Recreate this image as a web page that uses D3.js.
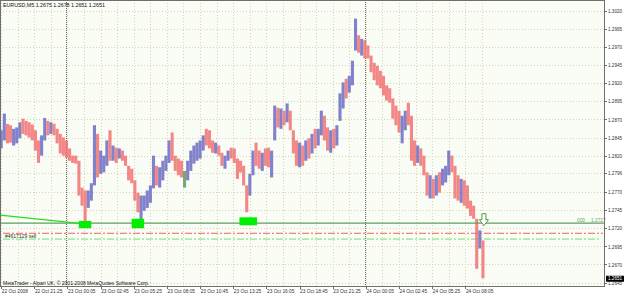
<!DOCTYPE html>
<html lang="en">
<head>
<meta charset="UTF-8">
<title>EURUSD,M5</title>
<script src="https://cdn.jsdelivr.net/npm/d3@7"></script>
<style>
    body { margin: 0; background: #ffffff; }
    svg { display: block; font-family: "Liberation Sans", Arial, sans-serif; }
</style>
</head>
<body>
<svg width="625" height="296"></svg>
<script>
// header / footer text
var symbolTitle = "EURUSD,M5  1.2675 1.2678 1.2651 1.2651";
var copyright = "MetaTrader - Alpari UK, \u00a9 2001-2008 MetaQuotes Software Corp.";

// price bars, one every 15 minutes starting 22 Oct 2008 18:45
var firstBar = "2008-10-22 18:45";
var firstOpen = 1.2840;
var highs = [
    1.2855,1.2878,1.2864,1.2862,1.2857,1.2859,1.2866,1.2871,1.2868,1.2866,
    1.2863,1.2855,1.2841,1.2848,1.2872,1.2868,1.2866,1.2864,1.2857,1.2850,
    1.2845,1.2841,1.2830,1.2820,1.2820,1.2813,1.2776,1.2772,1.2772,1.2782,
    1.2862,1.2850,1.2827,1.2820,1.2841,1.2855,1.2834,1.2831,1.2830,1.2827,
    1.2820,1.2806,1.2802,1.2786,1.2769,1.2765,1.2765,1.2772,1.2779,1.2820,
    1.2806,1.2804,1.2813,1.2820,1.2841,1.2852,1.2820,1.2816,1.2813,1.2799,
    1.2813,1.2827,1.2834,1.2838,1.2841,1.2848,1.2857,1.2855,1.2841,1.2838,
    1.2834,1.2824,1.2820,1.2827,1.2831,1.2830,1.2816,1.2813,1.2806,1.2779,
    1.2795,1.2827,1.2838,1.2827,1.2824,1.2830,1.2831,1.2827,1.2889,1.2886,
    1.2885,1.2882,1.2892,1.2882,1.2855,1.2841,1.2838,1.2834,1.2841,1.2844,
    1.2850,1.2857,1.2857,1.2882,1.2875,1.2859,1.2855,1.2857,1.2862,1.2906,
    1.2921,1.2926,1.2930,1.2951,1.3009,1.2986,1.2981,1.2979,1.2972,1.2958,
    1.2948,1.2944,1.2937,1.2930,1.2917,1.2913,1.2899,1.2889,1.2882,1.2875,
    1.2882,1.2893,1.2875,1.2841,1.2834,1.2830,1.2820,1.2797,1.2793,1.2788,
    1.2793,1.2797,1.2802,1.2806,1.2827,1.2820,1.2806,1.2793,1.2788,1.2786,
    1.2779,1.2758,1.2751,1.2733,1.2717,1.2703
];
var lows = [
    1.2830,1.2841,1.2837,1.2838,1.2834,1.2837,1.2844,1.2850,1.2848,1.2845,
    1.2841,1.2827,1.2810,1.2820,1.2841,1.2848,1.2850,1.2848,1.2837,1.2823,
    1.2820,1.2817,1.2813,1.2810,1.2809,1.2765,1.2751,1.2728,1.2748,1.2758,
    1.2779,1.2790,1.2795,1.2797,1.2806,1.2813,1.2813,1.2810,1.2816,1.2813,
    1.2806,1.2786,1.2782,1.2758,1.2742,1.2731,1.2744,1.2748,1.2755,1.2775,
    1.2779,1.2776,1.2786,1.2799,1.2810,1.2813,1.2799,1.2793,1.2790,1.2776,
    1.2786,1.2799,1.2809,1.2813,1.2816,1.2827,1.2834,1.2830,1.2824,1.2823,
    1.2820,1.2806,1.2802,1.2813,1.2816,1.2810,1.2788,1.2797,1.2779,1.2742,
    1.2765,1.2793,1.2806,1.2802,1.2799,1.2806,1.2804,1.2790,1.2841,1.2859,
    1.2857,1.2862,1.2866,1.2855,1.2823,1.2806,1.2804,1.2806,1.2813,1.2816,
    1.2823,1.2830,1.2834,1.2848,1.2841,1.2827,1.2824,1.2830,1.2834,1.2868,
    1.2885,1.2899,1.2907,1.2917,1.2965,1.2962,1.2958,1.2954,1.2954,1.2935,
    1.2924,1.2917,1.2913,1.2903,1.2896,1.2893,1.2871,1.2862,1.2852,1.2837,
    1.2855,1.2862,1.2813,1.2806,1.2810,1.2806,1.2793,1.2765,1.2761,1.2761,
    1.2765,1.2769,1.2779,1.2783,1.2793,1.2797,1.2761,1.2758,1.2755,1.2751,
    1.2747,1.2737,1.2733,1.2664,1.2692,1.2651
];
var closes = [
    1.2850,1.2852,1.2845,1.2842,1.2848,1.2855,1.2862,1.2858,1.2855,1.2850,
    1.2845,1.2833,1.2825,1.2845,1.2860,1.2856,1.2858,1.2850,1.2840,1.2832,
    1.2830,1.2822,1.2816,1.2815,1.2812,1.2772,1.2760,1.2748,1.2765,1.2778,
    1.2845,1.2800,1.2815,1.2818,1.2835,1.2825,1.2828,1.2820,1.2822,1.2817,
    1.2808,1.2795,1.2785,1.2765,1.2750,1.2755,1.2758,1.2765,1.2775,1.2795,
    1.2785,1.2800,1.2808,1.2818,1.2830,1.2815,1.2810,1.2800,1.2795,1.2795,
    1.2810,1.2822,1.2825,1.2832,1.2838,1.2845,1.2840,1.2838,1.2830,1.2835,
    1.2822,1.2810,1.2818,1.2825,1.2820,1.2812,1.2800,1.2798,1.2782,1.2770,
    1.2790,1.2820,1.2815,1.2808,1.2820,1.2815,1.2808,1.2822,1.2875,1.2870,
    1.2878,1.2872,1.2885,1.2860,1.2830,1.2815,1.2825,1.2820,1.2835,1.2830,
    1.2845,1.2840,1.2852,1.2870,1.2850,1.2835,1.2845,1.2838,1.2858,1.2898,
    1.2915,1.2905,1.2925,1.2948,1.2975,1.2970,1.2975,1.2962,1.2960,1.2940,
    1.2935,1.2925,1.2918,1.2910,1.2900,1.2898,1.2880,1.2870,1.2860,1.2868,
    1.2878,1.2870,1.2825,1.2815,1.2825,1.2810,1.2798,1.2772,1.2780,1.2770,
    1.2785,1.2778,1.2795,1.2800,1.2805,1.2800,1.2775,1.2765,1.2775,1.2760,
    1.2755,1.2745,1.2740,1.2690,1.2710,1.2651
];

// axes
var priceTicks = [1.3020,1.2995,1.2970,1.2945,1.2920,1.2895,1.2870,1.2845,
                  1.2820,1.2796,1.2770,1.2745,1.2720,1.2695,1.2670,1.2645];
var timeTickTimes = ["2008-10-22 18:45","2008-10-22 21:25","2008-10-23 00:05","2008-10-23 02:45",
                     "2008-10-23 05:25","2008-10-23 08:05","2008-10-23 10:45","2008-10-23 13:25",
                     "2008-10-23 16:05","2008-10-23 18:45","2008-10-23 21:25","2008-10-24 00:05",
                     "2008-10-24 02:45","2008-10-24 05:25","2008-10-24 08:05"];
var timeTickLabels = ["22 Oct 2008","22 Oct 21:25","23 Oct 00:05","23 Oct 02:45","23 Oct 05:25",
                      "23 Oct 08:05","23 Oct 10:45","23 Oct 13:25","23 Oct 16:05","23 Oct 18:45",
                      "23 Oct 21:25","24 Oct 00:05","24 Oct 02:45","24 Oct 05:25","24 Oct 08:05"];
var daySeparators = ["2008-10-23 00:00","2008-10-24 00:00"];

// objects on the chart
var levelPrice = 1.2727, levelName = "000";
var orderPrice = 1.2713, orderLabel = "#4617129 sell";
var targetPrice = 1.2705;
var lastPrice = 1.2651;
var trendTimes = ["2008-10-22 18:40","2008-10-23 01:25"];
var trendPrices = [1.2738, 1.2726];
var zoneStart = ["2008-10-23 01:00","2008-10-23 05:15","2008-10-23 13:55"];
var zoneEnd   = ["2008-10-23 02:00","2008-10-23 06:15","2008-10-23 15:20"];
var zoneTop    = [1.2730, 1.2733, 1.2735];
var zoneBottom = [1.2720, 1.2720, 1.2724];
var arrowTime = "2008-10-24 09:35", arrowPrice = 1.2740;

var parse = d3.timeParse("%Y-%m-%d %H:%M");
var t0 = parse(firstBar);

var svg = d3.select("svg");
var plotW = 605, plotH = 287;

var x = d3.scaleTime()
    .domain([t0, d3.timeMinute.offset(t0, 2325)])
    .range([1.15, 482.9]);
var y = d3.scaleLinear()
    .domain([1.26381, 1.30338])
    .range([287.6, 0.6]);

svg.append("rect").attr("width", plotW).attr("height", plotH).attr("fill", "#fafcf6");

svg.append("clipPath").attr("id", "plot")
    .append("rect").attr("width", plotW).attr("height", plotH);
var g = svg.append("g").attr("clip-path", "url(#plot)");

// grid
var gridTimes = d3.range(0, 2400, 80).map(function (m) { return d3.timeMinute.offset(t0, m); });
g.selectAll(".vgrid").data(gridTimes).join("line")
    .attr("x1", function (d) { return Math.round(x(d)) + 0.5; })
    .attr("x2", function (d) { return Math.round(x(d)) + 0.5; })
    .attr("y1", 0).attr("y2", plotH)
    .attr("stroke", "#d9d3b3").attr("stroke-dasharray", "1,2");
g.selectAll(".hgrid").data(priceTicks).join("line")
    .attr("x1", 0).attr("x2", plotW)
    .attr("y1", function (d) { return Math.round(y(d)) + 0.5; })
    .attr("y2", function (d) { return Math.round(y(d)) + 0.5; })
    .attr("stroke", "#d9d3b3").attr("stroke-dasharray", "1,2");
g.selectAll(".sep").data(daySeparators.map(parse)).join("line")
    .attr("x1", function (d) { return Math.round(x(d)) + 0.5; })
    .attr("x2", function (d) { return Math.round(x(d)) + 0.5; })
    .attr("y1", 0).attr("y2", plotH)
    .attr("stroke", "#6a6a6a").attr("stroke-dasharray", "1,1");

// order lines
g.append("line")
    .attr("x1", 3).attr("x2", 603)
    .attr("y1", y(orderPrice)).attr("y2", y(orderPrice))
    .attr("stroke", "#f06060").attr("stroke-dasharray", "7,2,2,2");
g.append("line")
    .attr("x1", 3).attr("x2", 601)
    .attr("y1", y(targetPrice)).attr("y2", y(targetPrice))
    .attr("stroke", "#6ee06e").attr("stroke-dasharray", "7,2,2,2");

// bars
var bars = highs.map(function (h, i) {
    return {
        t: d3.timeMinute.offset(t0, i * 15),
        high: h, low: lows[i], close: closes[i],
        open: i === 0 ? firstOpen : closes[i - 1]
    };
});
g.selectAll(".bar").data(bars).join("rect")
    .attr("x", function (d) { return x(d.t) - 1.5; })
    .attr("width", 3.1)
    .attr("y", function (d) { return y(d.high); })
    .attr("height", function (d) { return Math.max(1, y(d.low) - y(d.high)); })
    .attr("fill", function (d) {
        if (d.close > d.open) return "#6c6cc4";
        if (d.close < d.open) return "#f07272";
        return "#5c9c5c";
    })
    .attr("opacity", 0.85);

// level line
g.append("line")
    .attr("x1", 0).attr("x2", plotW)
    .attr("y1", y(levelPrice)).attr("y2", y(levelPrice))
    .attr("stroke", "#5e9e5e").attr("stroke-width", 1.2);

// trend line
g.append("line")
    .attr("x1", x(parse(trendTimes[0]))).attr("y1", y(trendPrices[0]))
    .attr("x2", x(parse(trendTimes[1]))).attr("y2", y(trendPrices[1]))
    .attr("stroke", "#22e022").attr("stroke-width", 1.4);

// zones
g.selectAll(".zone").data(zoneStart).join("rect")
    .attr("x", function (d) { return x(parse(d)); })
    .attr("width", function (d, i) { return x(parse(zoneEnd[i])) - x(parse(d)); })
    .attr("y", function (d, i) { return y(zoneTop[i]); })
    .attr("height", function (d, i) { return y(zoneBottom[i]) - y(zoneTop[i]); })
    .attr("fill", "#00ee00");

// arrow marker
var ax = x(parse(arrowTime)), ay = y(arrowPrice);
g.append("path")
    .attr("d", "M" + (ax - 2) + "," + ay + "h4v6h2.5l-4.5,6l-4.5,-6h2.5z")
    .attr("fill", "#ffffff").attr("stroke", "#4a9a4a").attr("stroke-width", 1);

// texts inside the plot
svg.append("text").attr("x", 3).attr("y", 5).attr("dy", "0.35em")
    .attr("font-size", 5.3).attr("fill", "#111").text(symbolTitle);
svg.append("text").attr("x", 3).attr("y", 283.3).attr("dy", "0.35em")
    .attr("font-size", 5).attr("fill", "#111").text(copyright);
svg.append("text").attr("x", 5).attr("y", y(orderPrice) + 3).attr("dy", "0.35em")
    .attr("font-size", 5).attr("fill", "#333").text(orderLabel);
svg.append("text").attr("x", 577).attr("y", y(levelPrice) - 3).attr("dy", "0.35em")
    .attr("font-size", 4.8).attr("fill", "#6aa66a").text(levelName);
svg.append("text").attr("x", 591).attr("y", y(levelPrice) - 3).attr("dy", "0.35em")
    .attr("font-size", 4.8).attr("fill", "#6aa66a").text(levelPrice.toFixed(4));

// frame
svg.append("rect").attr("x", 0.5).attr("y", 0.5).attr("width", plotW - 1).attr("height", plotH - 1)
    .attr("fill", "none").attr("stroke", "#707070");

// price axis
var pa = svg.append("g");
pa.selectAll("line").data(priceTicks).join("line")
    .attr("x1", plotW).attr("x2", plotW + 2)
    .attr("y1", function (d) { return Math.round(y(d)) + 0.5; })
    .attr("y2", function (d) { return Math.round(y(d)) + 0.5; })
    .attr("stroke", "#707070");
pa.selectAll("text").data(priceTicks).join("text")
    .attr("x", 608).attr("y", function (d) { return y(d) + 0.6; })
    .attr("dy", "0.35em").attr("font-size", 4.6).attr("fill", "#333")
    .text(function (d) { return d.toFixed(4); });

// last price marker
svg.append("rect").attr("x", 606).attr("y", y(lastPrice) - 2.5)
    .attr("width", 18).attr("height", 6).attr("fill", "#000");
svg.append("text").attr("x", 608).attr("y", y(lastPrice) + 0.5).attr("dy", "0.35em")
    .attr("font-size", 4.6).attr("fill", "#fff").text(lastPrice.toFixed(4));

// time axis
var ta = svg.append("g");
var tickTimes = timeTickTimes.map(parse);
ta.selectAll("line").data(tickTimes).join("line")
    .attr("x1", function (d) { return Math.round(x(d)) + 0.5; })
    .attr("x2", function (d) { return Math.round(x(d)) + 0.5; })
    .attr("y1", plotH).attr("y2", plotH + 2)
    .attr("stroke", "#707070");
ta.selectAll("text").data(tickTimes).join("text")
    .attr("x", function (d) { return x(d) + 0.6; })
    .attr("y", 291.5).attr("dy", "0.35em")
    .attr("font-size", 4.8).attr("fill", "#333")
    .text(function (d, i) { return timeTickLabels[i]; });
</script>
</body>
</html>
